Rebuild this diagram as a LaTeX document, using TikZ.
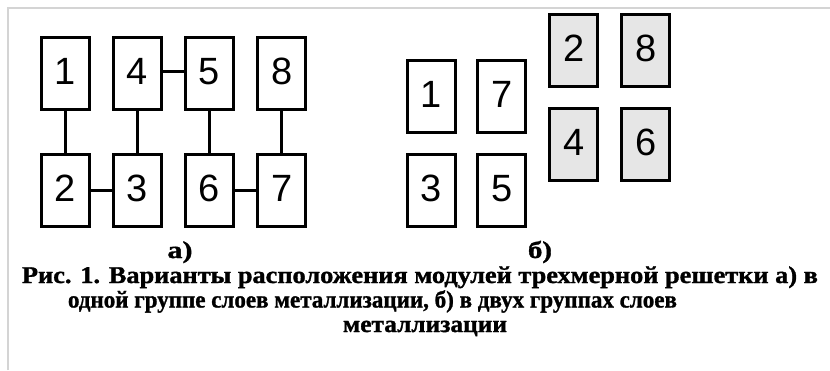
\documentclass[tikz,border=0pt]{standalone}
\usepackage{fontspec}
\usepackage{graphicx}
\newfontfamily\digitfont{Liberation Sans}
\newfontfamily\capfont[BoldFeatures={FakeBold=1.2}]{Liberation Serif}
\definecolor{framegray}{HTML}{D4D4D4}
\definecolor{boxgray}{HTML}{E6E6E6}
\tikzset{
  modbox/.style={draw, line width=3pt, minimum width=48pt, minimum height=72pt,
    inner sep=0pt, text depth=5pt, font=\digitfont\fontsize{38}{38}\selectfont},
  graybox/.style={modbox, fill=boxgray},
  link/.style={line width=3pt},
  captext/.style={inner sep=0pt, anchor=base, font=\capfont\bfseries\fontsize{24}{24}\selectfont}
}
\begin{document}
\begin{tikzpicture}[x=1pt,y=-1pt]
\useasboundingbox (0,0) rectangle (830,370);
\fill[white] (0,0) rectangle (830,370);
\draw[framegray, line width=2pt] (7.5,370) -- (7.5,7.5) -- (830,7.5);
% variant a)
\node[modbox] (a1) at (65.5,73.7) {1};
\node[modbox] (a4) at (137,73.7) {4};
\node[modbox] (a5) at (209.2,73.7) {5};
\node[modbox] (a8) at (281.7,73.7) {8};
\node[modbox] (a2) at (65.5,190.8) {2};
\node[modbox] (a3) at (137,190.8) {3};
\node[modbox] (a6) at (209.2,190.8) {6};
\node[modbox] (a7) at (281.7,190.8) {7};
\draw[link] (a1.south) -- (a2.north);
\draw[link] (a4.south) -- (a3.north);
\draw[link] (a5.south) -- (a6.north);
\draw[link] (a8.south) -- (a7.north);
\draw[link] (a4.east) ++(0,-2.5) coordinate (c45) -- (c45 -| a5.west);
\draw[link] (a2.east) -- (a3.west);
\draw[link] (a6.east) -- (a7.west);
% variant b)
\node[modbox] (b1) at (431.3,96.7) {1};
\node[modbox] (b7) at (501.7,96.7) {7};
\node[modbox] (b3) at (431.3,190.8) {3};
\node[modbox] (b5) at (501.7,190.8) {5};
\node[graybox] (b2) at (573.7,50.3) {2};
\node[graybox] (b8) at (645.8,50.3) {8};
\node[graybox] (b4) at (573.7,144.5) {4};
\node[graybox] (b6) at (645.8,144.5) {6};
% labels
\node[captext] (la) at (180,258) {\resizebox{25pt}{\height}{а)}};
\node[captext] (lb) at (540,258) {\resizebox{24pt}{\height}{б)}};
\node[captext] (l1) at (420,283) {\resizebox{796pt}{\height}{Рис. 1. Варианты расположения модулей трехмерной решетки а) в}};
\node[captext] (l2) at (372.5,307.5) {\resizebox{609pt}{\height}{одной группе слоев металлизации, б) в двух группах слоев}};
\node[captext] (l3) at (425,332) {\resizebox{164pt}{\height}{металлизации}};
\end{tikzpicture}
\end{document}
